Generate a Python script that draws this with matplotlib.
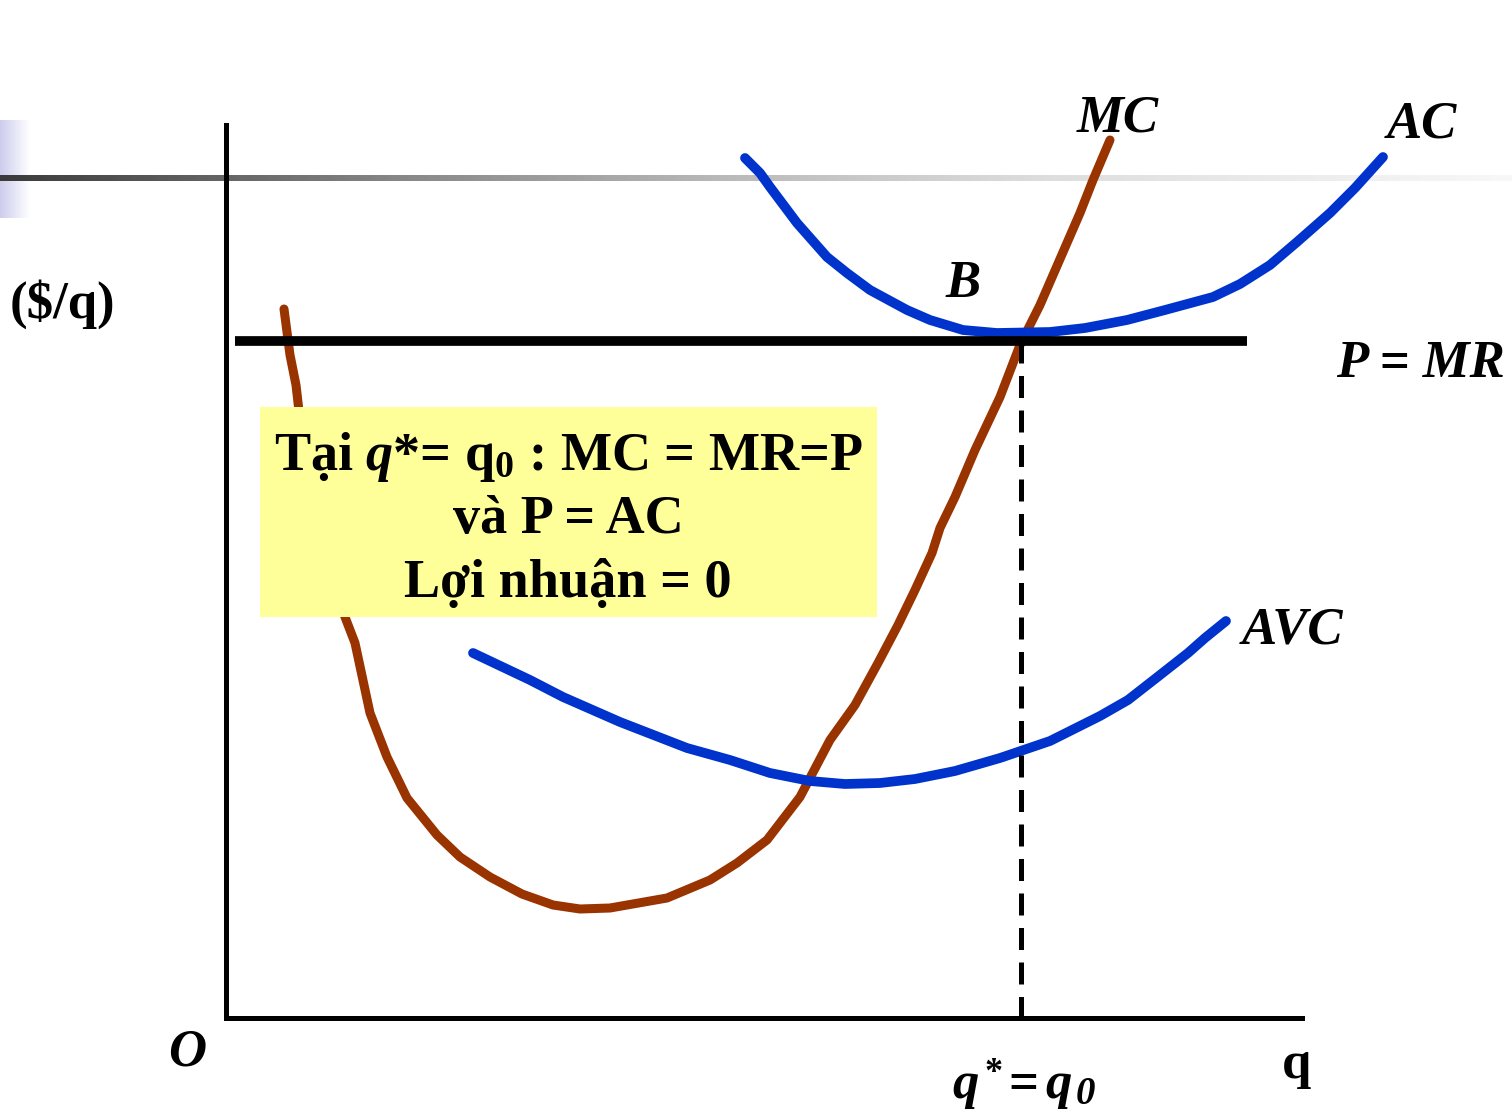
import numpy as np
import matplotlib.pyplot as plt

plt.rcParams['font.family'] = ['Liberation Serif', 'DejaVu Serif']
plt.rcParams['mathtext.fontset'] = 'custom'
plt.rcParams['mathtext.rm'] = 'Liberation Serif:bold'
plt.rcParams['mathtext.it'] = 'Liberation Serif:bold:italic'
plt.rcParams['mathtext.bf'] = 'Liberation Serif:bold'

# đường cong (toạ độ pixel, y hướng xuống)
mc_x = [284, 290, 296, 300, 308, 318, 330, 345, 355, 370, 387, 407, 437, 460, 490,
        522, 553, 580, 610, 667, 710, 737, 767, 800, 830, 855, 878, 898, 915, 932,
        940, 955, 975, 1000, 1020, 1040, 1080, 1093, 1110]
mc_y = [309, 355, 385, 420, 470, 520, 570, 617, 643, 713, 757, 798, 835, 857, 877,
        894, 905, 909, 908, 898, 880, 863, 840, 797, 740, 705, 663, 625, 590, 553,
        528, 497, 450, 397, 345, 305, 213, 180, 140]

ac_x = [745, 760, 770, 797, 827, 847, 870, 907, 930, 963, 997, 1050, 1085, 1127,
        1165, 1213, 1240, 1270, 1297, 1330, 1355, 1383]
ac_y = [158, 173, 187, 223, 257, 273, 290, 310, 320, 330, 333, 332, 328, 320,
        310, 297, 284, 265, 242, 213, 188, 157]

avc_x = [473, 530, 563, 620, 687, 730, 770, 810, 845, 880, 915, 955, 1000, 1050,
         1100, 1128, 1160, 1188, 1205, 1226]
avc_y = [653, 680, 697, 722, 748, 760, 773, 781, 784, 783, 779, 771, 758, 741,
         716, 700, 675, 653, 638, 621]

price_y = 341
price_x = [235, 1247]
q0 = 1021
axis_origin = (226, 1018)
axis_top = 125
axis_right = 1302

box_lines = ['Tại $\\mathit{q}$*= q$_{0}$ : MC = MR=P', 'và P = AC', 'Lợi nhuận = 0']

fig = plt.figure(figsize=(15.12, 11.12), dpi=100)
ax = fig.add_axes([0, 0, 1, 1])
ax.set_xlim(0, 1512)
ax.set_ylim(1112, 0)
ax.axis('off')

# thanh trang trí phía trên
gx = np.linspace(0, 1512, 400)
gray = np.interp(gx, [0, 400, 730, 1050, 1500], [0.23, 0.53, 0.73, 0.87, 0.97])
ax.imshow(np.repeat(gray[None, :, None], 3, axis=2), extent=(0, 1512, 181, 175),
          aspect='auto', zorder=1)
lav = np.linspace(0, 1, 50)
lav_img = np.zeros((1, 50, 3))
lav_img[0, :, 0] = 0.80 + 0.20 * lav
lav_img[0, :, 1] = 0.80 + 0.20 * lav
lav_img[0, :, 2] = 0.93 + 0.07 * lav
ax.imshow(lav_img, extent=(0, 30, 218, 120), aspect='auto', zorder=0.5)

# trục
ax.plot([axis_origin[0], axis_origin[0]], [axis_top, axis_origin[1]], color='black', lw=3.6, zorder=2)
ax.plot([axis_origin[0], axis_right], [axis_origin[1], axis_origin[1]], color='black', lw=3.6, zorder=2)

ax.plot(mc_x, mc_y, color='#993300', lw=6.5, solid_capstyle='round',
        solid_joinstyle='round', zorder=3)
ax.plot(ac_x, ac_y, color='#0033CC', lw=7, solid_capstyle='round',
        solid_joinstyle='round', zorder=4)
ax.plot(avc_x, avc_y, color='#0033CC', lw=7, solid_capstyle='round',
        solid_joinstyle='round', zorder=4)
ax.plot(price_x, [price_y, price_y], color='black', lw=7, solid_capstyle='butt', zorder=5)
ax.plot([q0, q0], [price_y, axis_origin[1]], color='black', lw=3.6,
        linestyle=(0, (4.4, 2.5)), zorder=5)

ax.add_patch(plt.Rectangle((260, 407), 617, 210, facecolor='#FFFF99', edgecolor='none', zorder=6))
for i, line in enumerate(box_lines):
    ax.text(568, 470 + 63.5 * i, line, fontsize=39, fontweight='bold', ha='center',
            va='baseline', zorder=7)

lbl = dict(fontsize=38, fontweight='bold', ha='center', va='baseline', zorder=7)
ax.text(1118, 132, 'MC', style='italic', **lbl)
ax.text(1422, 138, 'AC', style='italic', **lbl)
ax.text(963, 297, 'B', style='italic', **lbl)
ax.text(1420, 377, 'P = MR', style='italic', **lbl)
ax.text(1292, 644, 'AVC', style='italic', **lbl)
ax.text(62, 318, '($/q)', **lbl)
ax.text(187, 1066, 'O', style='italic', **lbl)
ax.text(1297, 1078, 'q', **lbl)

# nhãn q* = q0 dưới trục
qlbl = dict(fontweight='bold', style='italic', ha='left', va='baseline', zorder=7)
ax.text(952, 1098, 'q', fontsize=38, **qlbl)
ax.text(984, 1082, '*', fontsize=26, fontweight='bold', ha='left', va='baseline', zorder=7)
ax.text(1008, 1098, '=', fontsize=38, fontweight='bold', ha='left', va='baseline', zorder=7)
ax.text(1045, 1098, 'q', fontsize=38, **qlbl)
ax.text(1076, 1104, '0', fontsize=28, **qlbl)

fig.savefig('out.png', dpi=100)
